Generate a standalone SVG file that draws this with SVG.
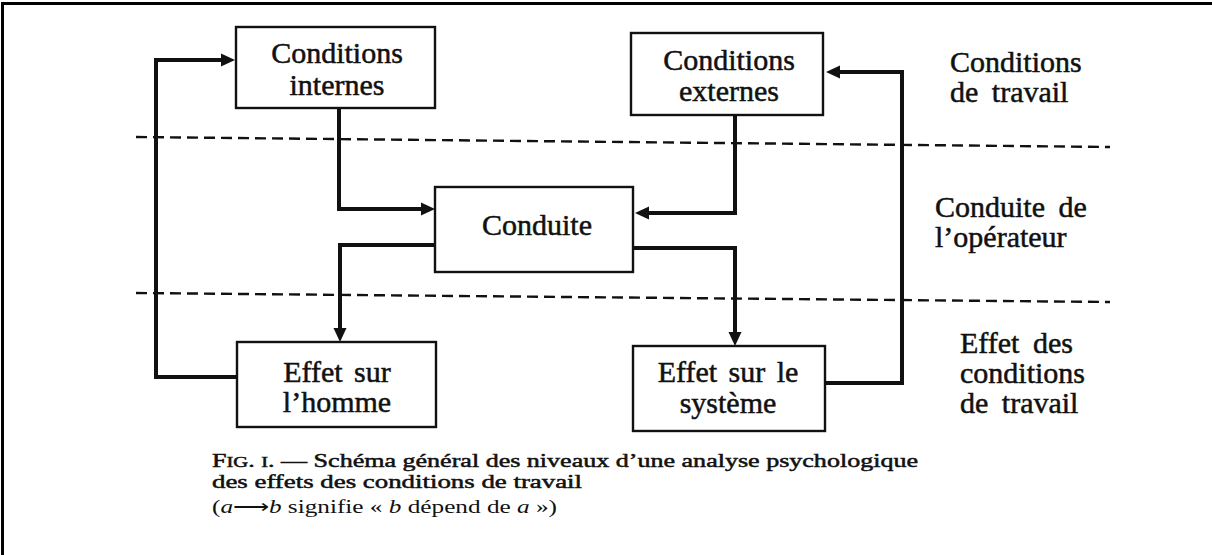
<svg xmlns="http://www.w3.org/2000/svg" width="1212" height="555" viewBox="0 0 1212 555">
<style>
.bg{fill:#ffffff}
.frame{fill:none;stroke:#000;stroke-width:3}
.box{fill:#fff;stroke:#111;stroke-width:2.4}
.t{font-family:"Liberation Serif","Times New Roman",serif;font-size:30px;fill:#111;stroke:#111;stroke-width:0.5;text-anchor:middle;word-spacing:4px}
.lab{font-family:"Liberation Serif","Times New Roman",serif;font-size:30px;fill:#111;stroke:#111;stroke-width:0.5;word-spacing:6px}
.cap{font-family:"Liberation Serif","Times New Roman",serif;font-size:19px;fill:#111}
.capd{stroke:#111;stroke-width:0.5}
.conn{fill:none;stroke:#111;stroke-width:4;stroke-linejoin:miter;stroke-linecap:butt}
.dash{fill:none;stroke:#111;stroke-width:2.4;stroke-dasharray:11 6}
</style>
<defs>
<marker id="ah" viewBox="0 0 14 14" markerWidth="14" markerHeight="14" refX="6" refY="7" orient="auto" markerUnits="userSpaceOnUse">
<path d="M0,0.5 L14,7 L0,13.5 z" fill="#111"/>
</marker>
</defs>
<rect class="bg" x="0" y="0" width="1212" height="555"/>
<path class="frame" d="M2.5,555 V3.5 H1212"/>

<g id="separators">
<path class="dash" d="M136,137 L1110,147"/>
<path class="dash" d="M136,293 L1110,302"/>
</g>

<g id="connectors">
<path class="conn" d="M237,377 H156 V60 H227" marker-end="url(#ah)"/>
<path class="conn" d="M339,108 V209 H427" marker-end="url(#ah)"/>
<path class="conn" d="M735,115 V213 H643" marker-end="url(#ah)"/>
<path class="conn" d="M435,245 H340 V334" marker-end="url(#ah)"/>
<path class="conn" d="M633,248 H735 V338" marker-end="url(#ah)"/>
<path class="conn" d="M825,383 H902 V72 H834" marker-end="url(#ah)"/>
</g>

<g id="conditions-internes">
<rect class="box" x="236" y="27" width="199" height="81"/>
<text class="t" x="337" y="63">Conditions<tspan x="337" y="95">internes</tspan></text>
</g>

<g id="conditions-externes">
<rect class="box" x="631" y="33" width="192" height="82"/>
<text class="t" x="729" y="70">Conditions<tspan x="729" y="101">externes</tspan></text>
</g>

<g id="conduite">
<rect class="box" x="435" y="187" width="198" height="85"/>
<text class="t" x="537" y="235">Conduite</text>
</g>

<g id="effet-homme">
<rect class="box" x="237" y="342" width="199" height="85"/>
<text class="t" x="337" y="382">Effet sur<tspan x="337" y="412">l’homme</tspan></text>
</g>

<g id="effet-systeme">
<rect class="box" x="633" y="346" width="192" height="85"/>
<text class="t" x="728" y="382">Effet sur le<tspan x="728" y="413">système</tspan></text>
</g>

<g id="level-labels">
<text class="lab" x="950" y="72">Conditions<tspan x="950" y="102">de travail</tspan></text>
<text class="lab" x="935" y="217">Conduite de<tspan x="935" y="247">l’opérateur</tspan></text>
<text class="lab" x="960" y="353">Effet des<tspan x="960" y="383">conditions</tspan><tspan x="960" y="413">de travail</tspan></text>
</g>

<g id="caption">
<text class="cap capd" x="212" y="467" textLength="706" lengthAdjust="spacingAndGlyphs">F<tspan font-size="15">IG</tspan>. <tspan font-size="15">I</tspan>. — Schéma général des niveaux d’une analyse psychologique</text>
<text class="cap capd" x="212" y="488" textLength="370" lengthAdjust="spacingAndGlyphs">des effets des conditions de travail</text>
<text class="cap" x="212" y="513" textLength="345" lengthAdjust="spacingAndGlyphs">(<tspan font-style="italic">a</tspan>⟶<tspan font-style="italic">b</tspan> signifie « <tspan font-style="italic">b</tspan> dépend de <tspan font-style="italic">a</tspan> »)</text>
</g>
</svg>
